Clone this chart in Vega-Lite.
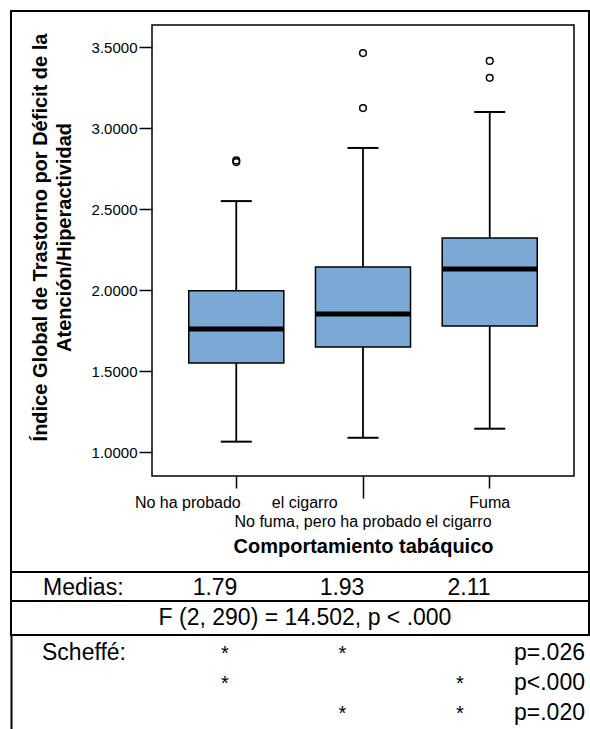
{
  "$schema": "https://vega.github.io/schema/vega-lite/v6.json",
  "padding": {"left": 10, "top": 10, "right": 0, "bottom": 0},
  "spacing": 0,
  "bounds": "flush",
  "config": {
    "view": {"stroke": "black", "strokeWidth": 2},
    "font": "Liberation Sans",
    "text": {"font": "Liberation Sans", "fontSize": 23, "color": "black"},
    "axis": {"labelFont": "Liberation Sans", "titleFont": "Liberation Sans"}
  },
  "datasets": {
    "cajas": [
      {"grupo": "No ha probado el cigarro", "min": 1.064, "q1": 1.549, "mediana": 1.759, "q3": 1.996, "max": 2.549},
      {"grupo": "No fuma, pero ha probado el cigarro", "min": 1.088, "q1": 1.648, "mediana": 1.852, "q3": 2.142, "max": 2.877},
      {"grupo": "Fuma", "min": 1.144, "q1": 1.778, "mediana": 2.13, "q3": 2.321, "max": 3.099}
    ],
    "atipicos": [
      {"grupo": "No ha probado el cigarro", "valor": 2.79},
      {"grupo": "No ha probado el cigarro", "valor": 2.8},
      {"grupo": "No fuma, pero ha probado el cigarro", "valor": 3.123},
      {"grupo": "No fuma, pero ha probado el cigarro", "valor": 3.463},
      {"grupo": "Fuma", "valor": 3.31},
      {"grupo": "Fuma", "valor": 3.414}
    ]
  },
  "vconcat": [
    {
      "width": 578,
      "height": 561,
      "resolve": {"scale": {"x": "independent"}},
      "layer": [
        {
          "data": {"name": "cajas"},
          "encoding": {
            "x": {
              "field": "grupo",
              "type": "nominal",
              "scale": {"domain": ["No ha probado el cigarro", "No fuma, pero ha probado el cigarro", "Fuma"], "range": [141, 563], "paddingInner": 0.25, "paddingOuter": 0.29},
              "axis": {
                "orient": "bottom",
                "offset": -96,
                "domain": false,
                "grid": false,
                "tickColor": "black",
                "tickWidth": 1.5,
                "tickSize": {"condition": {"test": "datum.value === 'No fuma, pero ha probado el cigarro'", "value": 22}, "value": 12},
                "labelPadding": {"condition": {"test": "datum.value === 'No fuma, pero ha probado el cigarro'", "value": 15}, "value": 6},
                "labelFontSize": 16,
                "labelColor": "black",
                "labelAngle": 0,
                "labelOverlap": false,
                "labelLimit": 500,
                "labelExpr": "datum.value === 'No ha probado el cigarro' ? 'No ha probado\u00a0\u00a0\u00a0\u00a0\u00a0\u00a0\u00a0el cigarro' : datum.value",
                "title": "Comportamiento tabáquico",
                "titleFontSize": 20,
                "titleFontWeight": "bold",
                "titleColor": "black",
                "titleBaseline": "alphabetic",
                "titleY": 76
              }
            }
          },
          "layer": [
            {
              "mark": {"type": "rule", "color": "black", "strokeWidth": 1.8},
              "encoding": {
                "y": {
                  "field": "min",
                  "type": "quantitative",
                  "scale": {"domain": [0.852, 3.636], "range": [465, 14], "nice": false, "zero": false},
                  "axis": {
                    "orient": "left",
                    "offset": -141,
                    "values": [1, 1.5, 2, 2.5, 3, 3.5],
                    "format": ".4f",
                    "domain": false,
                    "grid": false,
                    "tickColor": "black",
                    "tickWidth": 1.5,
                    "tickSize": 13,
                    "labelFontSize": 15,
                    "labelColor": "black",
                    "labelPadding": 2,
                    "title": ["Índice Global de Trastorno por Déficit de la", "Atención/Hiperactividad"],
                    "titleFontSize": 20,
                    "titleFontWeight": "bold",
                    "titleColor": "black",
                    "titleLineHeight": 24,
                    "titleBaseline": "alphabetic",
                    "titleAlign": "center",
                    "titleAngle": 270,
                    "titleX": -106,
                    "titleY": 226
                  }
                },
                "y2": {"field": "max"}
              }
            },
            {
              "mark": {"type": "tick", "color": "black", "opacity": 1, "thickness": 2, "size": 31},
              "encoding": {"y": {"field": "min", "type": "quantitative"}}
            },
            {
              "mark": {"type": "tick", "color": "black", "opacity": 1, "thickness": 2, "size": 31},
              "encoding": {"y": {"field": "max", "type": "quantitative"}}
            },
            {
              "mark": {"type": "bar", "fill": "#7BA9D6", "opacity": 1, "stroke": "black", "strokeWidth": 1.5},
              "encoding": {"y": {"field": "q1", "type": "quantitative"}, "y2": {"field": "q3"}}
            },
            {
              "mark": {"type": "tick", "color": "black", "opacity": 1, "thickness": 5, "size": 95},
              "encoding": {"y": {"field": "mediana", "type": "quantitative"}}
            },
            {
              "data": {"name": "atipicos"},
              "mark": {"type": "point", "shape": "circle", "filled": false, "color": "black", "size": 45, "strokeWidth": 1.5, "opacity": 1},
              "encoding": {"y": {"field": "valor", "type": "quantitative"}}
            }
          ]
        },
        {
          "data": {"values": [{}]},
          "mark": {"type": "rect", "fill": "transparent", "stroke": "black", "strokeWidth": 1.5},
          "encoding": {
            "x": {"datum": 0, "type": "quantitative", "scale": {"domain": [0, 1], "range": [141, 563]}, "axis": null},
            "x2": {"datum": 1},
            "y": {"datum": 0.852, "type": "quantitative"},
            "y2": {"datum": 3.636}
          }
        }
      ]
    },
    {
      "width": 578,
      "height": 29,
      "resolve": {"scale": {"x": "independent"}},
      "layer": [
        {
          "data": {"values": [{"fila": "Medias:"}]},
          "mark": {"type": "text", "align": "left", "baseline": "middle", "dy": 1},
          "encoding": {
            "x": {"field": "fila", "type": "nominal", "scale": {"type": "point", "range": [32, 32]}, "axis": null},
            "text": {"field": "fila"}
          }
        },
        {
          "data": {"values": [
            {"grupo": "No ha probado el cigarro", "media": 1.79},
            {"grupo": "No fuma, pero ha probado el cigarro", "media": 1.93},
            {"grupo": "Fuma", "media": 2.11}
          ]},
          "mark": {"type": "text", "align": "center", "baseline": "middle", "dy": 1},
          "encoding": {
            "x": {"field": "grupo", "type": "nominal", "scale": {"type": "point", "domain": ["No ha probado el cigarro", "No fuma, pero ha probado el cigarro", "Fuma"], "range": [204, 458], "padding": 0}, "axis": null},
            "text": {"field": "media", "type": "quantitative", "format": ".2f"}
          }
        }
      ]
    },
    {
      "width": 578,
      "height": 34,
      "data": {"values": [{"prueba": "F (2, 290) = 14.502, p < .000"}]},
      "mark": {"type": "text", "baseline": "middle", "align": "center"},
      "encoding": {
        "x": {"field": "prueba", "type": "nominal", "scale": {"type": "point", "range": [294, 294]}, "axis": null},
        "text": {"field": "prueba"}
      }
    },
    {
      "width": 578,
      "height": 94,
      "view": {"stroke": null},
      "resolve": {"scale": {"x": "independent"}},
      "encoding": {
        "y": {
          "field": "fila",
          "type": "ordinal",
          "scale": {"type": "band", "domain": [1, 2, 3], "paddingInner": 0.5, "paddingOuter": 0.317, "align": 0.92},
          "axis": {"orient": "left", "domain": true, "domainColor": "black", "domainWidth": 2, "ticks": false, "labels": false, "title": null, "grid": false}
        }
      },
      "layer": [
        {
          "data": {"values": [{"fila": 1, "etiqueta": "Scheffé:"}]},
          "mark": {"type": "text", "align": "left", "baseline": "alphabetic"},
          "encoding": {
            "x": {"field": "etiqueta", "type": "nominal", "scale": {"type": "point", "range": [31, 31]}, "axis": null},
            "text": {"field": "etiqueta"}
          }
        },
        {
          "data": {"values": [
            {"fila": 1, "grupo": "No ha probado el cigarro", "marca": "*"},
            {"fila": 1, "grupo": "No fuma, pero ha probado el cigarro", "marca": "*"},
            {"fila": 2, "grupo": "No ha probado el cigarro", "marca": "*"},
            {"fila": 2, "grupo": "Fuma", "marca": "*"},
            {"fila": 3, "grupo": "No fuma, pero ha probado el cigarro", "marca": "*"},
            {"fila": 3, "grupo": "Fuma", "marca": "*"}
          ]},
          "mark": {"type": "text", "align": "center", "baseline": "alphabetic", "fontSize": 20},
          "encoding": {
            "x": {"field": "grupo", "type": "nominal", "scale": {"type": "point", "domain": ["No ha probado el cigarro", "No fuma, pero ha probado el cigarro", "Fuma"], "range": [214, 449], "padding": 0}, "axis": null},
            "text": {"field": "marca"}
          }
        },
        {
          "data": {"values": [
            {"fila": 1, "p": "p=.026"},
            {"fila": 2, "p": "p<.000"},
            {"fila": 3, "p": "p=.020"}
          ]},
          "mark": {"type": "text", "align": "right", "baseline": "alphabetic"},
          "encoding": {
            "x": {"field": "col", "type": "nominal", "scale": {"type": "point", "range": [574, 574]}, "axis": null},
            "text": {"field": "p"}
          }
        }
      ]
    }
  ]
}
